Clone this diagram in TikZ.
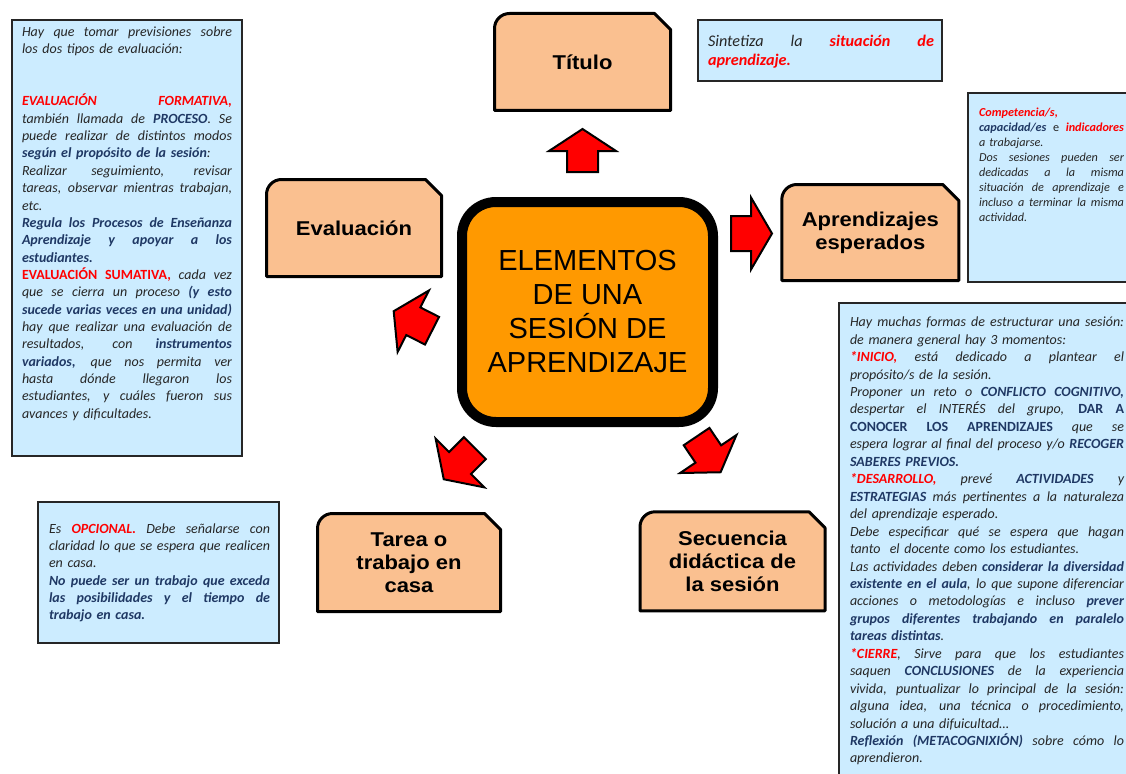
\documentclass[tikz,border=0pt]{standalone}
\usepackage{fontspec}
\setmainfont{Carlito}
\newfontfamily\arialfont{Liberation Sans}
\newfontfamily\nodefont[FakeStretch=1.1]{Liberation Sans}
\usetikzlibrary{backgrounds}
\definecolor{peach}{HTML}{FAC090}
\definecolor{orangec}{HTML}{FF9900}
\definecolor{lblue}{HTML}{CCECFF}
\definecolor{navy}{HTML}{1F3864}
\definecolor{txt}{HTML}{262626}
\definecolor{boxline}{HTML}{262626}
\newlength\jw
\newcommand\txR[1]{{\bfseries\itshape\color{red}#1}}
\newcommand\txRU[1]{{\bfseries\upshape\color{red}#1}}
\newcommand\txB[1]{{\bfseries\itshape\color{navy}#1}}
\newcommand\txBU[1]{{\bfseries\upshape\color{navy}#1}}
\newcommand\jline[1]{\noindent\hbox to \jw{\spaceskip=\fontdimen2\font plus 1fil\relax\xspaceskip=\spaceskip\strut#1}\par}
\newcommand\rline[1]{\noindent\hbox{\strut#1}\par}
\newcommand\peachpath[1]{\path[peachshape] (#1.south west) -- ([yshift=-15pt]#1.north west) arc[start angle=180, end angle=90, radius=15pt] -- ([xshift=-16pt]#1.north east) -- ([yshift=-16pt]#1.north east) -- (#1.south east) -- cycle;}
\newcommand\blockarr[7]{\draw[redarrow,shift={(#1,#2)},rotate=#3] (-#4,#6) -- (0,#6) -- (0,#7) -- (#5,0) -- (0,-#7) -- (0,-#6) -- (-#4,-#6) -- cycle;}
\begin{document}
\begin{tikzpicture}[x=1pt,y=1pt,
  bluebox/.style={draw=boxline, line width=2pt, fill=lblue, anchor=north west, inner sep=0pt, outer sep=0pt},
  boxtext/.style={anchor=north west, inner sep=0pt, outer sep=0pt, text=txt, font=\fontsize{14}{17.35}\selectfont\itshape},
  peachnode/.style={inner sep=0pt, outer sep=0pt, align=center, font=\nodefont\bfseries\fontsize{20}{23}\selectfont},
  peachshape/.style={fill=peach, draw=black, line width=3pt, line join=round},
  centernode/.style={draw=black, fill=orangec, line width=10pt, rounded corners=34pt, minimum width=251pt, minimum height=220pt, align=center, inner sep=0pt, font=\arialfont\fontsize{29}{34}\selectfont},
  redarrow/.style={fill=red, draw=black, line width=2pt, line join=miter}]
\useasboundingbox (0,0) rectangle (1126,-773);
\clip (0,0) rectangle (1126,-773);

% central node
\node[centernode] (center) at (587.5,-312) {ELEMENTOS\\DE UNA\\SESIÓN DE\\APRENDIZAJE};

% peach nodes
\node[peachnode, minimum width=176pt, minimum height=97pt] (titulo) at (582.5,-62) {Título};
\node[peachnode, minimum width=175pt, minimum height=97pt] (evaluacion) at (354,-228) {Evaluación};
\node[peachnode, minimum width=177pt, minimum height=96pt] (aprendizajes) at (870.3,-232.5) {Aprendizajes\\esperados};
\node[peachnode, minimum width=183pt, minimum height=98pt] (tarea) at (409,-562.5) {Tarea o\\trabajo en\\casa};
\node[peachnode, minimum width=185pt, minimum height=99pt] (secuencia) at (732.5,-561.3) {Secuencia\\didáctica de\\la sesión};

\begin{scope}[on background layer]
\fill[white] (0,0) rectangle (1126,-773);
\peachpath{titulo}
\peachpath{evaluacion}
\peachpath{aprendizajes}
\peachpath{tarea}
\peachpath{secuencia}
\end{scope}

% block arrows
\blockarr{582.5}{-151}{90}{21}{22}{15.5}{33.5}
\blockarr{751}{-233.5}{0}{20}{21}{17.5}{36}
\blockarr{413.3}{-321.2}{153}{21}{22}{15.5}{34.5}
\blockarr{460}{-463}{225}{21}{23}{15.5}{34.5}
\blockarr{708.3}{-454}{-56}{21}{22}{15.5}{34}

% blue boxes
\node[bluebox, minimum width=230pt, minimum height=436pt] (evalbox) at (11.5,-20) {};
\node[boxtext, text width=210pt] (evaltext) at (22,-24.4) {\setlength\jw{210pt}%
\jline{Hay que tomar previsiones sobre}
\rline{los dos tipos de evaluación:}
\rline{\mbox{}}
\rline{\mbox{}}
\jline{\txR{EVALUACIÓN FORMATIVA,}}
\jline{también llamada de \txB{PROCESO}. Se}
\jline{puede realizar de distintos modos}
\rline{\txB{según el propósito de la sesión}:}
\jline{Realizar seguimiento, revisar}
\jline{tareas, observar mientras trabajan,}
\rline{etc.}
\jline{\txB{Regula los Procesos de Enseñanza}}
\jline{\txB{Aprendizaje y apoyar a los}}
\rline{\txB{estudiantes.}}
\jline{\txRU{EVALUACIÓN SUMATIVA,} cada vez}
\jline{que se cierra un proceso \txB{(y esto}}
\jline{\txB{sucede varias veces en una unidad)}}
\jline{hay que realizar una evaluación de}
\jline{resultados, con \txB{instrumentos}}
\jline{\txB{variados,} que nos permita ver}
\jline{hasta dónde llegaron los}
\jline{estudiantes, y cuáles fueron sus}
\rline{avances y dificultades.}};

\node[bluebox, minimum width=241pt, minimum height=141pt] (tareabox) at (38,-502) {};
\node[boxtext, text width=221pt] (tareatext) at (49,-520.9) {\setlength\jw{221pt}%
\jline{Es \txR{OPCIONAL.} Debe señalarse con}
\jline{claridad lo que se espera que realicen}
\rline{en casa.}
\jline{\txB{No puede ser un trabajo que exceda}}
\jline{\txB{las posibilidades y el tiempo de}}
\rline{\txB{trabajo en casa.}}};

\node[bluebox, minimum width=244pt, minimum height=61pt] (titulobox) at (698,-20) {};
\node[boxtext, text width=226pt, font=\fontsize{16.2}{18.5}\selectfont\itshape] (titulotext) at (708,-33.8) {\setlength\jw{226pt}%
\jline{Sintetiza la \txR{situación de}}
\rline{\txR{aprendizaje.}}};

\node[bluebox, minimum width=162pt, minimum height=189pt] (aprbox) at (968,-93) {};
\node[boxtext, text width=145pt, font=\fontsize{12.2}{15}\selectfont\itshape] (aprtext) at (979,-106.2) {\setlength\jw{145pt}%
\rline{\txR{Competencia/s,}}
\jline{\txB{capacidad/es} {\upshape e} \txR{indicadores}}
\rline{a trabajarse.}
\jline{Dos sesiones pueden ser}
\jline{dedicadas a la misma}
\jline{situación de aprendizaje e}
\jline{incluso a terminar la misma}
\rline{actividad.}};

\node[bluebox, minimum width=291pt, minimum height=477pt] (secbox) at (839,-303) {};
\node[boxtext, text width=274pt, font=\fontsize{14}{17.45}\selectfont\itshape] (sectext) at (850,-314.5) {\setlength\jw{274pt}%
\jline{Hay muchas formas de estructurar una sesión:}
\rline{de manera general hay 3 momentos:}
\jline{\txR{*INICIO,} está dedicado a plantear el}
\rline{propósito/s de la sesión.}
\jline{Proponer un reto o \txB{CONFLICTO COGNITIVO,}}
\jline{despertar el INTERÉS del grupo, \txBU{DAR A}}
\jline{\txBU{CONOCER LOS APRENDIZAJES} que se}
\jline{espera lograr al final del proceso y/o \txB{RECOGER}}
\rline{\txB{SABERES PREVIOS.}}
\jline{\txR{*DESARROLLO,} prevé \txB{ACTIVIDADES} y}
\jline{\txB{ESTRATEGIAS} más pertinentes a la naturaleza}
\rline{del aprendizaje esperado.}
\jline{Debe especificar qué se espera que hagan}
\rline{tanto\ \ el docente como los estudiantes.}
\jline{Las actividades deben \txB{considerar la diversidad}}
\jline{\txB{existente en el aula}, lo que supone diferenciar}
\jline{acciones o metodologías e incluso \txB{prever}}
\jline{\txB{grupos diferentes trabajando en paralelo}}
\rline{\txB{tareas distintas}.}
\jline{\txR{*CIERRE}, Sirve para que los estudiantes}
\jline{saquen \txB{CONCLUSIONES} de la experiencia}
\jline{vivida, puntualizar lo principal de la sesión:}
\jline{alguna idea, una técnica o procedimiento,}
\rline{solución a una difuicultad…}
\jline{\txB{Reflexión (METACOGNIXIÓN)} sobre cómo lo}
\rline{aprendieron.}};
\end{tikzpicture}
\end{document}
